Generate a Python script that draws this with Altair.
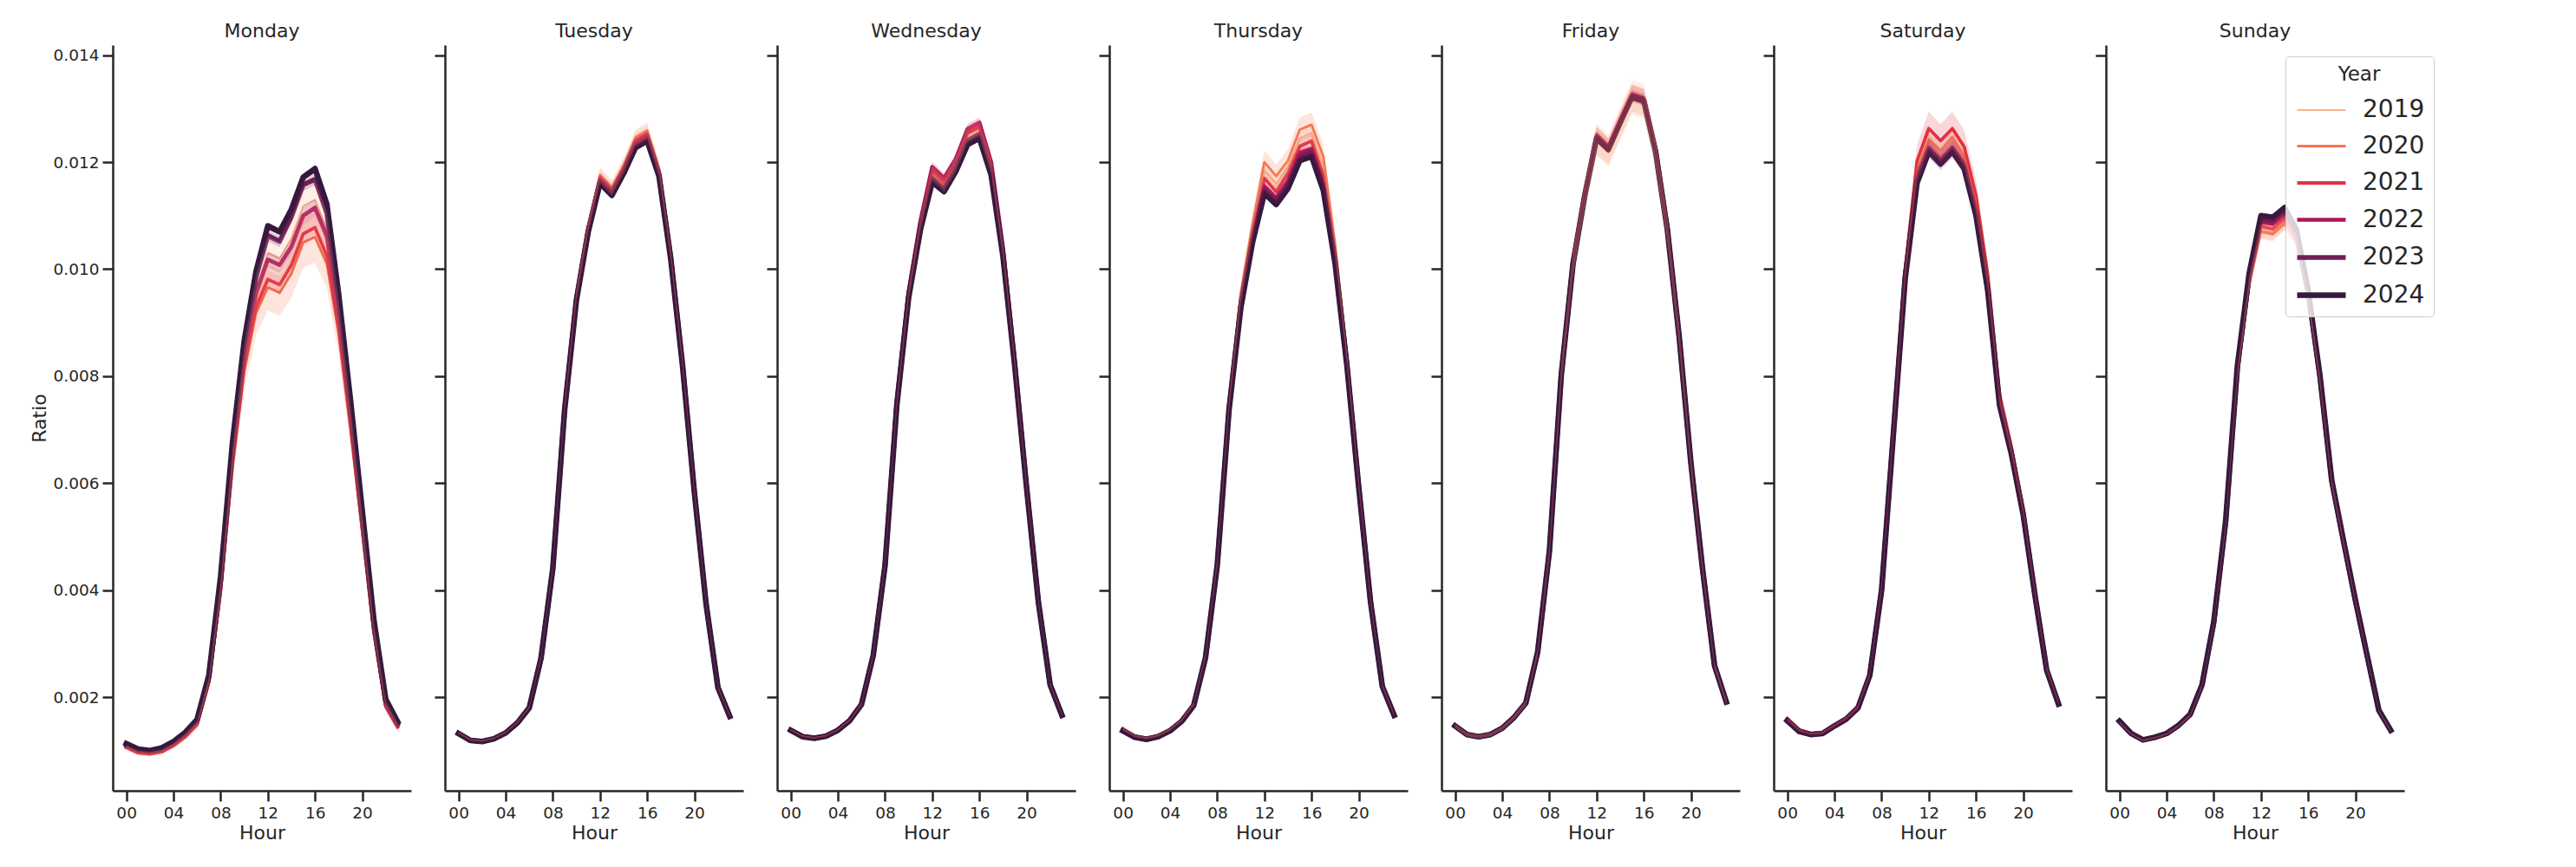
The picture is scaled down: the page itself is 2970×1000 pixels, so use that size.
import altair as alt
import pandas as pd

HOURS = list(range(24))
YEARS = ["2019", "2020", "2021", "2022", "2023", "2024"]
DAYS = ["Monday", "Tuesday", "Wednesday", "Thursday", "Friday", "Saturday", "Sunday"]
COLORS = ["#f6b48f", "#f37651", "#e13342", "#ad1759", "#701f57", "#35193e"]
WIDTHS = [2.0, 2.9, 3.8, 4.7, 5.6, 6.5]
Y_TICKS = [0.002, 0.004, 0.006, 0.008, 0.010, 0.012, 0.014]
X_TICKS = [0, 4, 8, 12, 16, 20]

MON_2019 = [0.00107,0.00097,0.00095,0.00099,0.00111,0.00128,0.00150,0.00230,0.00405,0.00645,0.00835,0.00960,0.01030,0.01020,0.01058,0.01118,0.01130,0.01075,0.00918,0.00728,0.00528,0.00328,0.00187,0.00148]
MON_2020 = [0.00105,0.00095,0.00093,0.00097,0.00108,0.00125,0.00147,0.00225,0.00395,0.00628,0.00808,0.00918,0.00966,0.00956,0.00992,0.01050,0.01060,0.01010,0.00880,0.00702,0.00510,0.00318,0.00181,0.00143]
MON_2021 = [0.00106,0.00096,0.00094,0.00098,0.00110,0.00126,0.00149,0.00228,0.00400,0.00635,0.00818,0.00930,0.00981,0.00971,0.01008,0.01066,0.01078,0.01025,0.00890,0.00710,0.00515,0.00320,0.00182,0.00144]
MON_2022 = [0.00108,0.00098,0.00096,0.00100,0.00112,0.00129,0.00152,0.00232,0.00408,0.00648,0.00835,0.00955,0.01018,0.01008,0.01042,0.01100,0.01115,0.01062,0.00912,0.00725,0.00525,0.00326,0.00186,0.00147]
MON_2023 = [0.00111,0.00101,0.00099,0.00103,0.00115,0.00132,0.00156,0.00238,0.00420,0.00665,0.00855,0.00985,0.01063,0.01052,0.01098,0.01158,0.01168,0.01105,0.00940,0.00745,0.00540,0.00336,0.00192,0.00151]
MON_2024 = [0.00113,0.00103,0.00100,0.00105,0.00117,0.00134,0.00158,0.00241,0.00426,0.00675,0.00866,0.00996,0.01081,0.01070,0.01112,0.01172,0.01188,0.01122,0.00954,0.00757,0.00550,0.00343,0.00196,0.00154]

TUE_2019 = [0.00133,0.00120,0.00118,0.00123,0.00134,0.00153,0.00181,0.00274,0.00444,0.00743,0.00951,0.01080,0.01174,0.01150,0.01192,0.01243,0.01256,0.01187,0.01027,0.00824,0.00586,0.00375,0.00219,0.00165]
TUE_2020 = [0.00134,0.00121,0.00118,0.00123,0.00134,0.00153,0.00181,0.00275,0.00445,0.00745,0.00953,0.01082,0.01176,0.01153,0.01194,0.01246,0.01259,0.01189,0.01028,0.00825,0.00587,0.00375,0.00219,0.00165]
TUE_2021 = [0.00133,0.00120,0.00118,0.00122,0.00134,0.00153,0.00181,0.00274,0.00443,0.00742,0.00949,0.01078,0.01171,0.01148,0.01189,0.01240,0.01253,0.01184,0.01025,0.00823,0.00586,0.00374,0.00219,0.00164]
TUE_2022 = [0.00132,0.00119,0.00117,0.00122,0.00133,0.00152,0.00180,0.00273,0.00442,0.00740,0.00946,0.01075,0.01168,0.01145,0.01186,0.01236,0.01249,0.01181,0.01023,0.00822,0.00585,0.00374,0.00218,0.00164]
TUE_2023 = [0.00132,0.00119,0.00117,0.00122,0.00133,0.00152,0.00180,0.00273,0.00441,0.00738,0.00944,0.01072,0.01164,0.01141,0.01182,0.01231,0.01244,0.01177,0.01021,0.00820,0.00584,0.00373,0.00218,0.00164]
TUE_2024 = [0.00132,0.00119,0.00117,0.00122,0.00133,0.00152,0.00180,0.00273,0.00441,0.00737,0.00942,0.01070,0.01161,0.01138,0.01179,0.01227,0.01240,0.01174,0.01019,0.00819,0.00583,0.00373,0.00218,0.00164]

WED_2019 = [0.00139,0.00127,0.00124,0.00128,0.00139,0.00157,0.00187,0.00279,0.00449,0.00751,0.00954,0.01084,0.01179,0.01158,0.01196,0.01252,0.01263,0.01192,0.01034,0.00825,0.00595,0.00380,0.00224,0.00167]
WED_2020 = [0.00139,0.00127,0.00124,0.00128,0.00139,0.00157,0.00187,0.00279,0.00449,0.00751,0.00954,0.01084,0.01182,0.01160,0.01198,0.01254,0.01265,0.01193,0.01035,0.00825,0.00595,0.00380,0.00224,0.00167]
WED_2021 = [0.00139,0.00127,0.00124,0.00128,0.00139,0.00157,0.00187,0.00279,0.00449,0.00752,0.00955,0.01085,0.01183,0.01162,0.01200,0.01255,0.01266,0.01194,0.01036,0.00826,0.00596,0.00380,0.00224,0.00167]
WED_2022 = [0.00139,0.00127,0.00124,0.00128,0.00139,0.00157,0.00187,0.00280,0.00450,0.00755,0.00958,0.01090,0.01191,0.01170,0.01206,0.01262,0.01274,0.01200,0.01040,0.00828,0.00597,0.00381,0.00224,0.00167]
WED_2023 = [0.00138,0.00126,0.00123,0.00127,0.00138,0.00156,0.00186,0.00278,0.00447,0.00748,0.00950,0.01078,0.01170,0.01150,0.01188,0.01240,0.01252,0.01182,0.01028,0.00821,0.00593,0.00379,0.00223,0.00166]
WED_2024 = [0.00138,0.00126,0.00123,0.00127,0.00138,0.00156,0.00186,0.00278,0.00446,0.00746,0.00947,0.01074,0.01163,0.01145,0.01183,0.01233,0.01245,0.01176,0.01024,0.00819,0.00592,0.00378,0.00223,0.00166]

THU_2019 = [0.00140,0.00127,0.00123,0.00128,0.00139,0.00157,0.00186,0.00276,0.00451,0.00746,0.00950,0.01078,0.01185,0.01160,0.01192,0.01245,0.01255,0.01192,0.01038,0.00832,0.00598,0.00381,0.00221,0.00167]
THU_2020 = [0.00142,0.00128,0.00124,0.00129,0.00140,0.00158,0.00187,0.00277,0.00453,0.00748,0.00955,0.01085,0.01200,0.01174,0.01203,0.01261,0.01270,0.01210,0.01045,0.00838,0.00600,0.00382,0.00222,0.00167]
THU_2021 = [0.00139,0.00127,0.00123,0.00128,0.00139,0.00157,0.00186,0.00275,0.00450,0.00744,0.00945,0.01070,0.01170,0.01145,0.01180,0.01230,0.01240,0.01175,0.01030,0.00830,0.00597,0.00380,0.00221,0.00167]
THU_2022 = [0.00138,0.00126,0.00122,0.00127,0.00138,0.00156,0.00185,0.00274,0.00448,0.00741,0.00935,0.01060,0.01155,0.01133,0.01165,0.01218,0.01225,0.01160,0.01018,0.00824,0.00594,0.00379,0.00221,0.00166]
THU_2023 = [0.00137,0.00125,0.00121,0.00126,0.00137,0.00155,0.00184,0.00273,0.00447,0.00739,0.00931,0.01055,0.01148,0.01127,0.01157,0.01210,0.01218,0.01152,0.01013,0.00821,0.00593,0.00378,0.00220,0.00166]
THU_2024 = [0.00137,0.00125,0.00121,0.00126,0.00137,0.00155,0.00184,0.00273,0.00446,0.00737,0.00928,0.01051,0.01142,0.01121,0.01151,0.01203,0.01211,0.01147,0.01010,0.00819,0.00592,0.00378,0.00220,0.00166]

FRI_2019 = [0.00146,0.00130,0.00126,0.00130,0.00142,0.00162,0.00189,0.00284,0.00474,0.00802,0.01012,0.01140,0.01242,0.01222,0.01272,0.01321,0.01314,0.01219,0.01074,0.00874,0.00637,0.00437,0.00259,0.00191]
FRI_2020 = [0.00146,0.00130,0.00126,0.00130,0.00142,0.00162,0.00189,0.00284,0.00473,0.00801,0.01010,0.01138,0.01240,0.01220,0.01270,0.01320,0.01312,0.01218,0.01073,0.00873,0.00636,0.00436,0.00259,0.00191]
FRI_2021 = [0.00147,0.00131,0.00127,0.00131,0.00143,0.00163,0.00190,0.00285,0.00475,0.00804,0.01015,0.01144,0.01252,0.01230,0.01280,0.01328,0.01321,0.01226,0.01078,0.00876,0.00638,0.00438,0.00260,0.00191]
FRI_2022 = [0.00146,0.00130,0.00126,0.00130,0.00142,0.00162,0.00189,0.00284,0.00474,0.00802,0.01012,0.01141,0.01248,0.01227,0.01277,0.01325,0.01318,0.01223,0.01076,0.00875,0.00638,0.00437,0.00259,0.00191]
FRI_2023 = [0.00146,0.00130,0.00126,0.00130,0.00142,0.00162,0.00189,0.00284,0.00473,0.00801,0.01011,0.01139,0.01246,0.01225,0.01275,0.01323,0.01316,0.01221,0.01075,0.00874,0.00637,0.00437,0.00259,0.00191]
FRI_2024 = [0.00146,0.00130,0.00126,0.00130,0.00142,0.00162,0.00189,0.00284,0.00473,0.00801,0.01010,0.01138,0.01245,0.01224,0.01274,0.01322,0.01315,0.01220,0.01074,0.00874,0.00637,0.00437,0.00259,0.00191]

SAT_2019 = [0.00158,0.00138,0.00131,0.00133,0.00147,0.00160,0.00181,0.00243,0.00403,0.00698,0.00991,0.01180,0.01238,0.01215,0.01240,0.01205,0.01118,0.00975,0.00755,0.00661,0.00547,0.00394,0.00252,0.00189]
SAT_2020 = [0.00158,0.00138,0.00131,0.00133,0.00147,0.00160,0.00181,0.00243,0.00404,0.00699,0.00992,0.01185,0.01243,0.01222,0.01247,0.01212,0.01122,0.00980,0.00758,0.00662,0.00548,0.00395,0.00252,0.00189]
SAT_2021 = [0.00160,0.00139,0.00132,0.00134,0.00148,0.00161,0.00182,0.00244,0.00406,0.00703,0.00998,0.01202,0.01263,0.01240,0.01263,0.01229,0.01138,0.00990,0.00765,0.00668,0.00552,0.00398,0.00254,0.00190]
SAT_2022 = [0.00157,0.00137,0.00131,0.00133,0.00147,0.00160,0.00181,0.00242,0.00402,0.00696,0.00989,0.01172,0.01228,0.01205,0.01228,0.01196,0.01108,0.00966,0.00750,0.00658,0.00545,0.00392,0.00251,0.00188]
SAT_2023 = [0.00156,0.00136,0.00130,0.00132,0.00146,0.00159,0.00180,0.00241,0.00401,0.00694,0.00986,0.01165,0.01223,0.01200,0.01223,0.01191,0.01104,0.00962,0.00748,0.00656,0.00543,0.00391,0.00250,0.00187]
SAT_2024 = [0.00156,0.00136,0.00130,0.00132,0.00146,0.00159,0.00180,0.00241,0.00400,0.00692,0.00983,0.01161,0.01220,0.01197,0.01220,0.01188,0.01101,0.00960,0.00746,0.00655,0.00542,0.00391,0.00250,0.00187]

SUN_2019 = [0.00153,0.00131,0.00119,0.00124,0.00131,0.00146,0.00166,0.00221,0.00337,0.00520,0.00803,0.00974,0.01072,0.01068,0.01088,0.01052,0.00946,0.00793,0.00601,0.00489,0.00380,0.00277,0.00174,0.00137]
SUN_2020 = [0.00153,0.00131,0.00119,0.00124,0.00131,0.00146,0.00166,0.00220,0.00336,0.00518,0.00800,0.00970,0.01070,0.01065,0.01085,0.01050,0.00945,0.00792,0.00601,0.00489,0.00380,0.00277,0.00174,0.00137]
SUN_2021 = [0.00154,0.00131,0.00119,0.00124,0.00131,0.00146,0.00167,0.00221,0.00338,0.00522,0.00808,0.00980,0.01080,0.01075,0.01095,0.01058,0.00950,0.00795,0.00602,0.00490,0.00380,0.00277,0.00174,0.00138]
SUN_2022 = [0.00154,0.00131,0.00120,0.00124,0.00132,0.00146,0.00167,0.00222,0.00339,0.00524,0.00812,0.00984,0.01088,0.01085,0.01103,0.01064,0.00954,0.00797,0.00603,0.00490,0.00381,0.00277,0.00175,0.00138]
SUN_2023 = [0.00155,0.00132,0.00120,0.00125,0.00132,0.00147,0.00168,0.00223,0.00340,0.00526,0.00815,0.00988,0.01094,0.01091,0.01110,0.01070,0.00957,0.00799,0.00604,0.00491,0.00381,0.00278,0.00175,0.00138]
SUN_2024 = [0.00155,0.00132,0.00120,0.00125,0.00132,0.00147,0.00168,0.00223,0.00341,0.00528,0.00819,0.00992,0.01100,0.01097,0.01115,0.01074,0.00960,0.00801,0.00605,0.00492,0.00382,0.00278,0.00175,0.00138]

# relative half-width of the confidence band per year (2019..2024)
CI_MON = [0.030, 0.045, 0.018, 0.015, 0.010, 0.006]
CI_TUE = [0.010, 0.012, 0.008, 0.006, 0.005, 0.004]
CI_WED = [0.012, 0.010, 0.010, 0.008, 0.006, 0.005]
CI_THU = [0.012, 0.018, 0.010, 0.008, 0.006, 0.005]
CI_FRI = [0.025, 0.020, 0.012, 0.008, 0.006, 0.005]
CI_SAT = [0.012, 0.010, 0.025, 0.012, 0.012, 0.006]
CI_SUN = [0.012, 0.012, 0.008, 0.006, 0.006, 0.005]

SERIES = {
    "Monday": ([MON_2019, MON_2020, MON_2021, MON_2022, MON_2023, MON_2024], CI_MON),
    "Tuesday": ([TUE_2019, TUE_2020, TUE_2021, TUE_2022, TUE_2023, TUE_2024], CI_TUE),
    "Wednesday": ([WED_2019, WED_2020, WED_2021, WED_2022, WED_2023, WED_2024], CI_WED),
    "Thursday": ([THU_2019, THU_2020, THU_2021, THU_2022, THU_2023, THU_2024], CI_THU),
    "Friday": ([FRI_2019, FRI_2020, FRI_2021, FRI_2022, FRI_2023, FRI_2024], CI_FRI),
    "Saturday": ([SAT_2019, SAT_2020, SAT_2021, SAT_2022, SAT_2023, SAT_2024], CI_SAT),
    "Sunday": ([SUN_2019, SUN_2020, SUN_2021, SUN_2022, SUN_2023, SUN_2024], CI_SUN),
}

rows = []
for day in DAYS:
    lists, ci = SERIES[day]
    for yi, year in enumerate(YEARS):
        for h, v in zip(HOURS, lists[yi]):
            rows.append({"Day": day, "Year": year, "Hour": h, "Ratio": v,
                         "lo": v * (1 - ci[yi]), "hi": v * (1 + ci[yi])})
df = pd.DataFrame(rows)

INK = "#262626"
FONT = "DejaVu Sans"

x_scale = alt.Scale(domain=[-1.15, 24.15], nice=False, zero=False)
y_scale = alt.Scale(domain=[0.00025, 0.01419], nice=False, zero=False)
color_scale = alt.Scale(domain=YEARS, range=COLORS)
# point scale: evenly spread between the thinnest and the thickest line
width_scale = alt.Scale(domain=YEARS, range=[WIDTHS[0], WIDTHS[-1]])

LEGEND = alt.Legend(
    title="Year", orient="none", legendX=2505, legendY=13,
    titleFontSize=23, titleFontWeight="normal", titleAnchor="middle",
    titleAlign="center", titleColor=INK, titleFont=FONT, titlePadding=14,
    labelFontSize=28, labelColor=INK, labelFont=FONT, labelOffset=44,
    symbolType="M-1,0H3", symbolSize=784, symbolOpacity=1, rowPadding=12,
    padding=10, strokeColor="#cccccc", fillColor="rgba(255,255,255,0.8)",
    cornerRadius=4,
)


def panel(day, first):
    x_axis = alt.Axis(values=X_TICKS, title="Hour",
                      labelExpr="datum.value < 10 ? '0' + datum.value : '' + datum.value")
    if first:
        y_axis = alt.Axis(values=Y_TICKS, format=".3f", title="Ratio")
    else:
        y_axis = alt.Axis(values=Y_TICKS, labels=False, title=None)
    base = alt.Chart(df).transform_filter(alt.datum.Day == day)
    line = base.mark_line(strokeCap="square", strokeJoin="round").encode(
        x=alt.X("Hour:Q", scale=x_scale, axis=x_axis),
        y=alt.Y("Ratio:Q", scale=y_scale, axis=y_axis),
        color=alt.Color("Year:O", scale=color_scale, legend=LEGEND),
        strokeWidth=alt.StrokeWidth("Year:O", scale=width_scale, legend=LEGEND),
        order="Hour:Q",
    )
    band = base.mark_area(opacity=0.2).encode(
        x=alt.X("Hour:Q", scale=x_scale, axis=x_axis),
        y=alt.Y("lo:Q", scale=y_scale, axis=y_axis),
        y2="hi:Q",
        color=alt.Color("Year:O", scale=color_scale, legend=LEGEND),
        detail="Year:O",
    )
    return alt.layer(line, band).properties(
        width=344, height=860,
        title=alt.Title(day, fontSize=22, fontWeight="normal", font=FONT,
                        color=INK, offset=4, anchor="middle"),
    )


panels = [panel(d, i == 0) for i, d in enumerate(DAYS)]

chart = alt.hconcat(*panels, spacing=25).properties(
    padding={"left": 26, "top": 17, "right": 5, "bottom": 5},
    background="white",
).configure_view(strokeWidth=0).configure_axis(
    grid=False, domainColor=INK, domainWidth=2.5, tickColor=INK, tickWidth=2.5,
    tickSize=12, labelFontSize=18.5, labelColor=INK, labelFont=FONT,
    titleFontSize=22, titleFontWeight="normal", titleColor=INK, titleFont=FONT,
    labelPadding=4, titlePadding=4,
)

chart.save("out.html", embed_options={"renderer": "svg", "actions": False})
